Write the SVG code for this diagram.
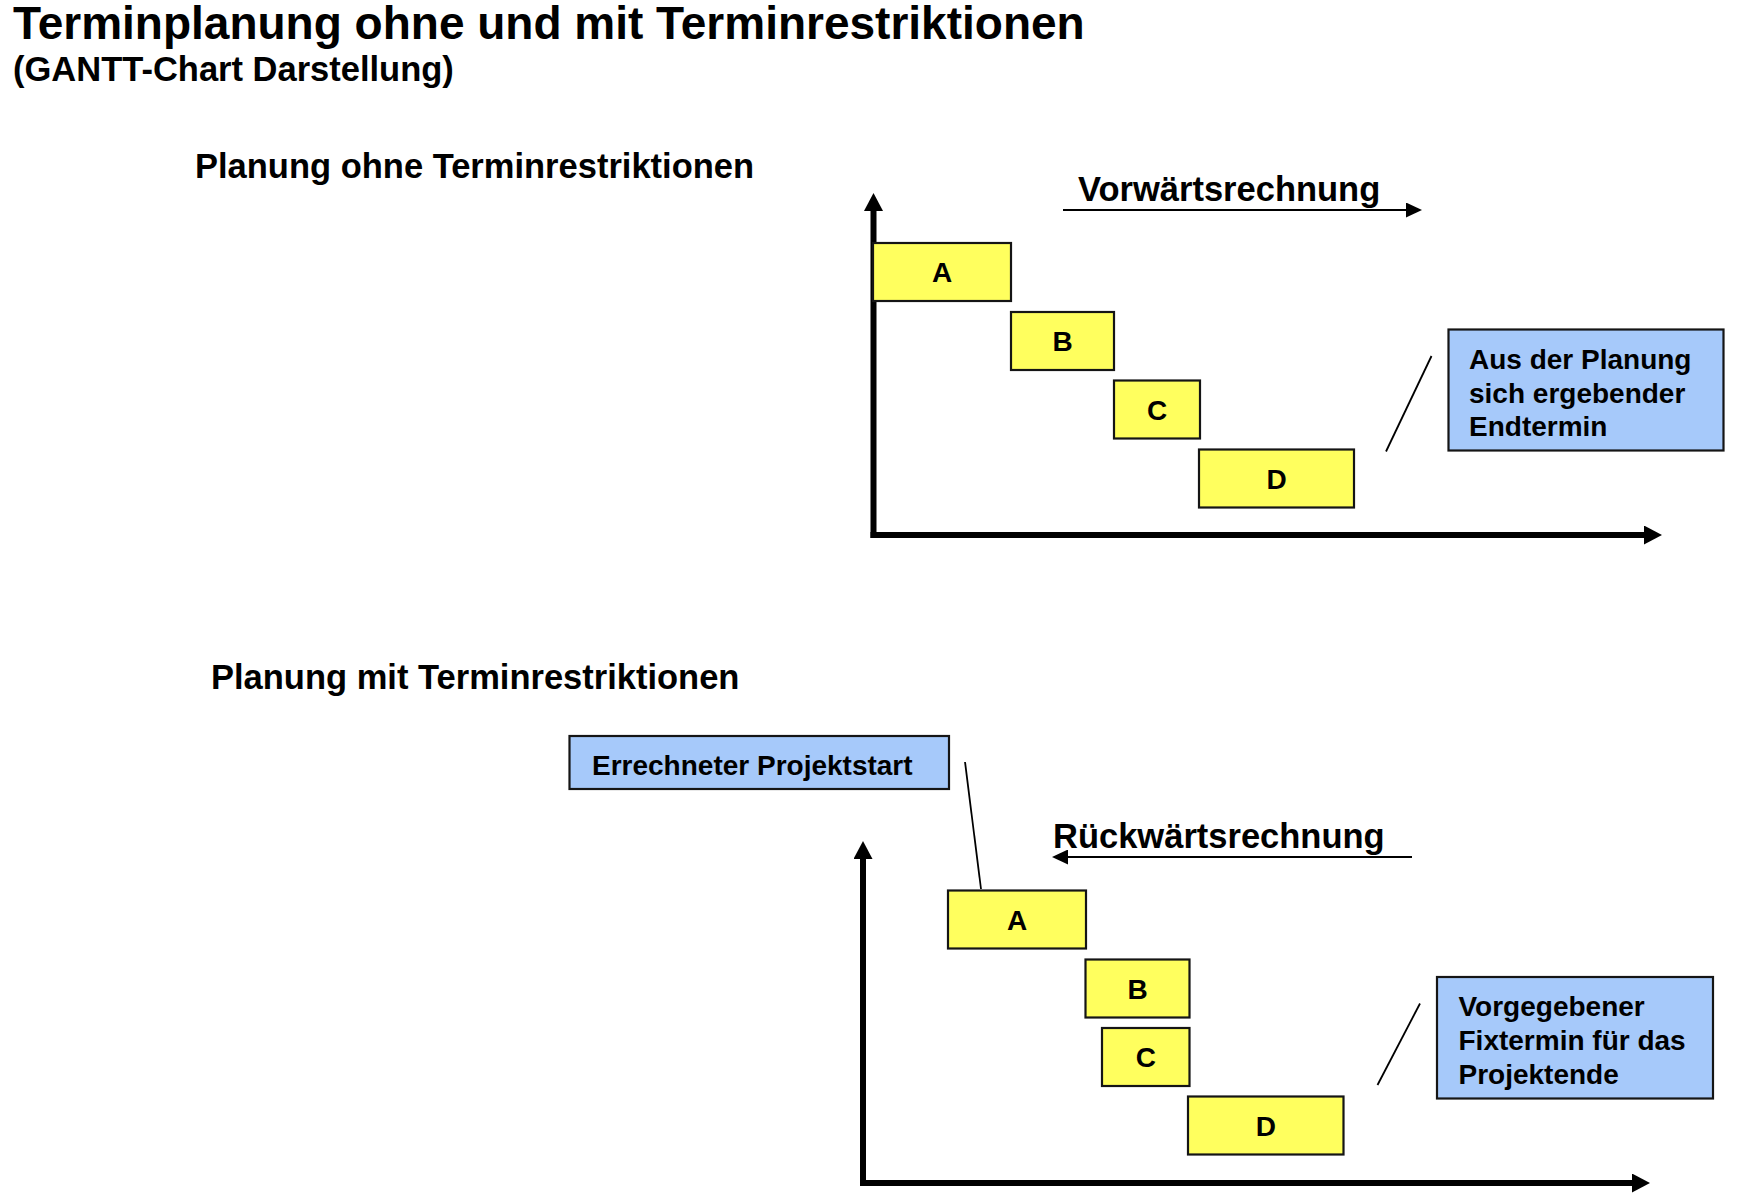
<svg xmlns="http://www.w3.org/2000/svg" width="1742" height="1194" viewBox="0 0 1742 1194">
<style>
  text { font-family: "Liberation Sans", Arial, sans-serif; font-weight: bold; fill: #000; }
  .title { font-size: 46px; }
  .h2 { font-size: 34.5px; }
  .lbl { font-size: 28px; }
  .task { fill: #FFFF5E; stroke: #151515; stroke-width: 2.2; }
  .note { fill: #A6C9FA; stroke: #151515; stroke-width: 2.2; }
  .axis { stroke: #000; stroke-width: 6; fill: none; }
  .dir { stroke: #000; stroke-width: 2; fill: none; }
  .call { stroke: #000; stroke-width: 1.8; fill: none; }
  .mid { text-anchor: middle; }
</style>
<defs>
  <marker id="axisHead" markerUnits="userSpaceOnUse" viewBox="0 0 18 19" refX="0" refY="9.5" markerWidth="18" markerHeight="19" orient="auto">
    <path d="M0,0 L18,9.5 L0,19 z" fill="#000"/>
  </marker>
  <marker id="dirHead" markerUnits="userSpaceOnUse" viewBox="0 0 16 15" refX="0" refY="7.5" markerWidth="16" markerHeight="15" orient="auto">
    <path d="M0,0 L16,7.5 L0,15 z" fill="#000"/>
  </marker>
</defs>
<rect width="1742" height="1194" fill="#fff"/>

<g id="titles">
  <text class="title" x="13" y="39">Terminplanung ohne und mit Terminrestriktionen</text>
  <text class="h2" x="13" y="81">(GANTT-Chart Darstellung)</text>
  <text class="h2" x="195" y="178">Planung ohne Terminrestriktionen</text>
  <text class="h2" x="211" y="689">Planung mit Terminrestriktionen</text>
  <text class="h2" x="1078" y="201">Vorwärtsrechnung</text>
  <text class="h2" x="1053" y="848">Rückwärtsrechnung</text>
</g>

<g id="connectors">
  <line class="axis" x1="873.5" y1="538" x2="873.5" y2="211" marker-end="url(#axisHead)"/>
  <line class="axis" x1="870.5" y1="535" x2="1644" y2="535" marker-end="url(#axisHead)"/>
  <line class="axis" x1="863" y1="1186" x2="863" y2="859" marker-end="url(#axisHead)"/>
  <line class="axis" x1="860" y1="1183" x2="1632" y2="1183" marker-end="url(#axisHead)"/>
  <line class="dir" x1="1063" y1="210" x2="1406" y2="210" marker-end="url(#dirHead)"/>
  <line class="dir" x1="1412" y1="857" x2="1068" y2="857" marker-end="url(#dirHead)"/>
  <line class="call" x1="1431.5" y1="356" x2="1386" y2="451.5"/>
  <line class="call" x1="1420" y1="1003.5" x2="1377.5" y2="1085"/>
  <line class="call" x1="965" y1="762" x2="981" y2="889"/>
</g>

<g id="upper-A"><rect class="task" x="873" y="243" width="138" height="58"/><text class="lbl mid" x="942" y="282">A</text></g>
<g id="upper-B"><rect class="task" x="1011" y="312" width="103" height="58"/><text class="lbl mid" x="1062.5" y="351">B</text></g>
<g id="upper-C"><rect class="task" x="1114" y="380.5" width="86" height="58"/><text class="lbl mid" x="1157" y="419.5">C</text></g>
<g id="upper-D"><rect class="task" x="1199" y="449.5" width="155" height="58"/><text class="lbl mid" x="1276.5" y="488.5">D</text></g>
<g id="upper-note">
  <rect class="note" x="1448.5" y="329.5" width="275" height="121"/>
  <text class="lbl" x="1469" y="369">Aus der Planung</text>
  <text class="lbl" x="1469" y="402.5">sich ergebender</text>
  <text class="lbl" x="1469" y="436">Endtermin</text>
</g>

<g id="start-note">
  <rect class="note" x="569.5" y="736" width="379.5" height="53"/>
  <text class="lbl" x="592" y="775">Errechneter Projektstart</text>
</g>
<g id="lower-A"><rect class="task" x="948" y="890.5" width="138" height="58"/><text class="lbl mid" x="1017" y="929.5">A</text></g>
<g id="lower-B"><rect class="task" x="1085.5" y="959.5" width="104" height="58"/><text class="lbl mid" x="1137.5" y="998.5">B</text></g>
<g id="lower-C"><rect class="task" x="1102" y="1028" width="87.5" height="58"/><text class="lbl mid" x="1145.75" y="1067">C</text></g>
<g id="lower-D"><rect class="task" x="1188" y="1096.5" width="155.5" height="58"/><text class="lbl mid" x="1265.75" y="1135.5">D</text></g>
<g id="lower-note">
  <rect class="note" x="1437" y="977" width="276" height="121.5"/>
  <text class="lbl" x="1458.5" y="1016">Vorgegebener</text>
  <text class="lbl" x="1458.5" y="1050">Fixtermin für das</text>
  <text class="lbl" x="1458.5" y="1084">Projektende</text>
</g>
</svg>
